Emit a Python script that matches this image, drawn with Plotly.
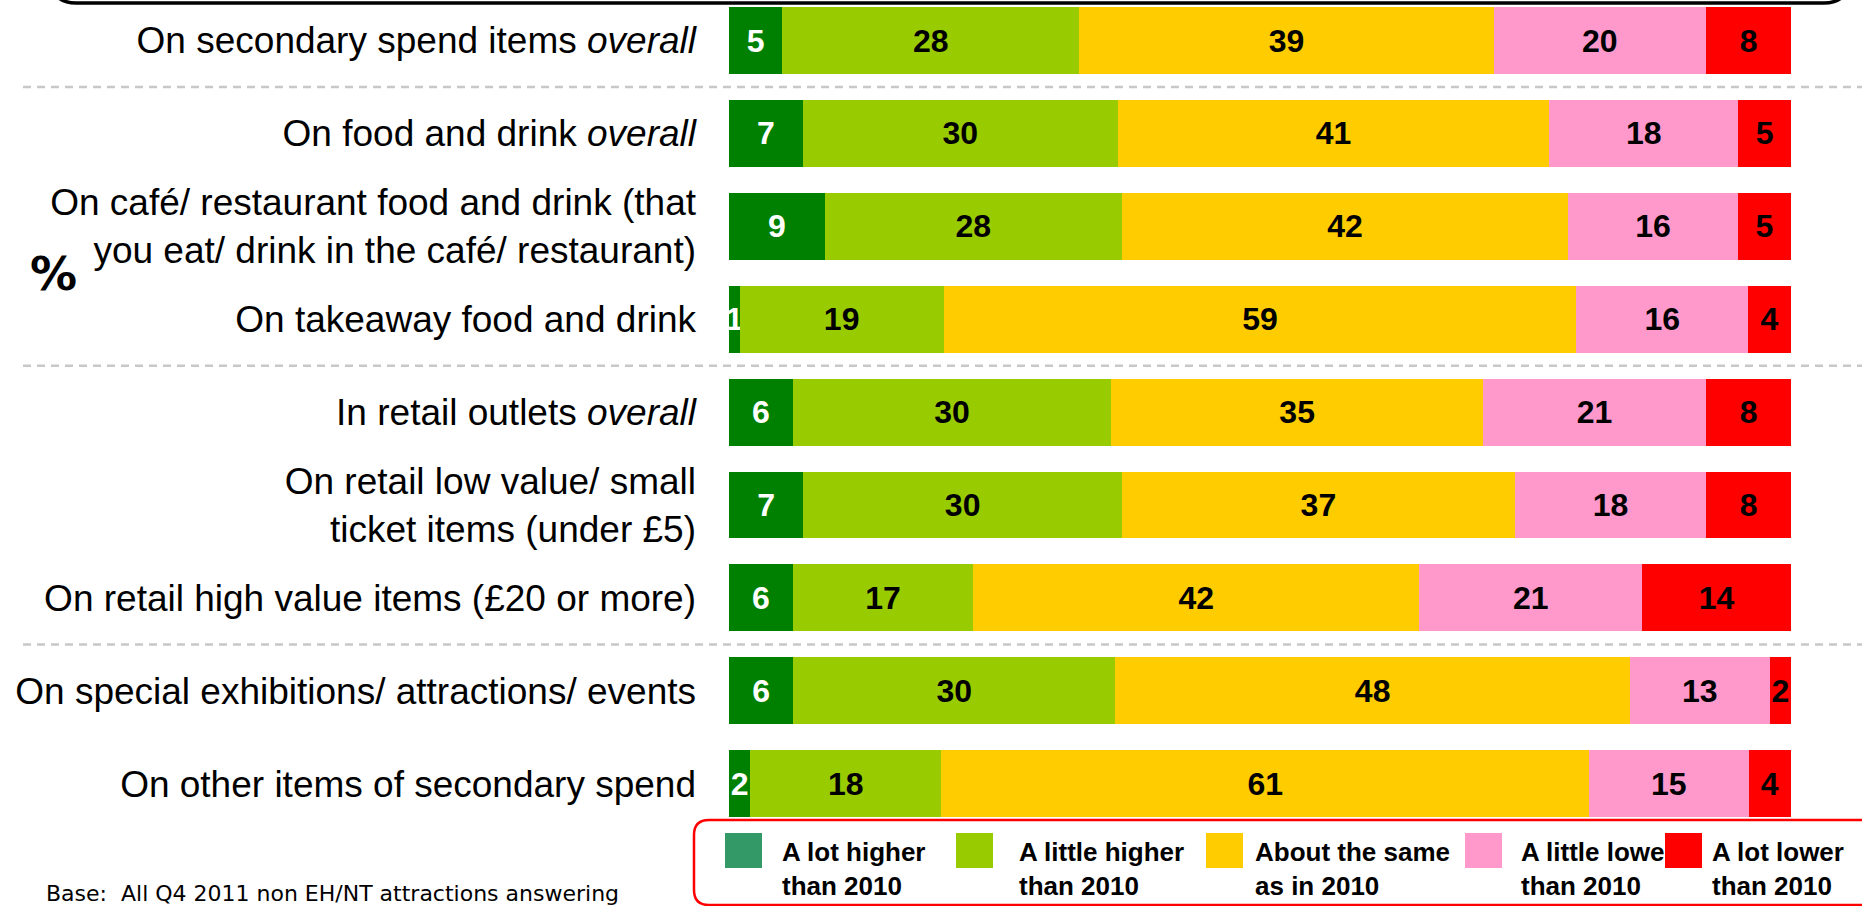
import plotly.graph_objects as go

# ---------------- data ----------------
categories = [
    "On secondary spend items <i>overall</i>",
    "On food and drink <i>overall</i>",
    "On café/ restaurant food and drink (that<br>you eat/ drink in the café/ restaurant)",
    "On takeaway food and drink",
    "In retail outlets <i>overall</i>",
    "On retail low value/ small<br>ticket items (under £5)",
    "On retail high value items (£20 or more)",
    "On special exhibitions/ attractions/ events",
    "On other items of secondary spend",
]
series_names = [
    "A lot higher<br>than 2010",
    "A little higher<br>than 2010",
    "About the same<br>as in 2010",
    "A little lower<br>than 2010",
    "A lot lower<br>than 2010",
]
a_lot_higher = [5, 7, 9, 1, 6, 7, 6, 6, 2]
a_little_higher = [28, 30, 28, 19, 30, 30, 17, 30, 18]
about_same = [39, 41, 42, 59, 35, 37, 42, 48, 61]
a_little_lower = [20, 18, 16, 16, 21, 18, 21, 13, 15]
a_lot_lower = [8, 5, 5, 4, 8, 8, 14, 2, 4]
series_values = [a_lot_higher, a_little_higher, about_same, a_little_lower, a_lot_lower]

bar_colors = ["#008000", "#99CC00", "#FFCC00", "#FF99CC", "#FF0000"]
legend_colors = ["#339966", "#99CC00", "#FFCC00", "#FF99CC", "#FF0000"]
text_colors = ["#FFFFFF", "#000000", "#000000", "#000000", "#000000"]

# ---------------- geometry helpers (pixels -> paper) ----------------
W, H = 1862, 906
ML, MR, MT, MB = 729, 71, 0, 76
PW, PH = W - ML - MR, H - MT - MB


def px(x):
    return (x - ML) / PW


def py(y):
    return (H - MB - y) / PH


def rounded_rect(x0, y0, x1, y1, r):
    # pixel coordinates, y downward; returns path in paper coords
    pts = [
        ("M", [(x0 + r, y0)]),
        ("L", [(x1 - r, y0)]),
        ("Q", [(x1, y0), (x1, y0 + r)]),
        ("L", [(x1, y1 - r)]),
        ("Q", [(x1, y1), (x1 - r, y1)]),
        ("L", [(x0 + r, y1)]),
        ("Q", [(x0, y1), (x0, y1 - r)]),
        ("L", [(x0, y0 + r)]),
        ("Q", [(x0, y0), (x0 + r, y0)]),
    ]
    s = ""
    for cmd, ps in pts:
        s += cmd + " " + " ".join(f"{px(a):.5f},{py(b):.5f}" for a, b in ps) + " "
    return s + "Z"


FONT = "Liberation Sans, Arial, sans-serif"

fig = go.Figure()
for name, vals, col, tcol in zip(series_names, series_values, bar_colors, text_colors):
    fig.add_trace(go.Bar(
        y=categories, x=vals, name=name, orientation="h",
        marker=dict(color=col, line=dict(width=0)),
        text=[str(v) for v in vals], textposition="inside",
        insidetextanchor="middle", constraintext="none", textangle=0,
        textfont=dict(family=FONT, size=32, color=tcol, weight="bold"),
        hoverinfo="skip", showlegend=False,
    ))

shapes = []
# top title box bottom edge
shapes.append(dict(type="path", xref="paper", yref="paper",
                   path=rounded_rect(52, -80, 1848, 3, 24),
                   line=dict(color="#000000", width=3.5), fillcolor="rgba(0,0,0,0)", layer="above"))
# dashed separators
for yv in [0.5, 3.5, 6.5]:
    shapes.append(dict(type="line", xref="paper", yref="y",
                       x0=px(23), x1=px(1870), y0=yv, y1=yv,
                       line=dict(color="#C8C8C8", width=2.5, dash="8px,6px"), layer="below"))
# legend box
shapes.append(dict(type="path", xref="paper", yref="paper",
                   path=rounded_rect(694, 820, 1920, 905, 15),
                   line=dict(color="#FF0000", width=2.5), fillcolor="rgba(0,0,0,0)", layer="above"))

annotations = []
# % sign
annotations.append(dict(xref="paper", yref="paper", x=px(53), y=py(273), text="%",
                        showarrow=False, xanchor="center", yanchor="middle",
                        font=dict(family="DejaVu Sans, Verdana, sans-serif", size=47,
                                  color="#000000", weight="bold")))
# base note
annotations.append(dict(xref="paper", yref="paper", x=px(44), y=py(893),
                        text="Base:  All Q4 2011 non EH/NT attractions answering",
                        showarrow=False, xanchor="left", yanchor="middle",
                        font=dict(family="DejaVu Sans, Verdana, sans-serif", size=22, color="#000000")))
# legend texts
legend_text_x = [780, 1017, 1253, 1519, 1710]
legend_square_x = [743, 974, 1224, 1483, 1683]
for name, tx in zip(series_names, legend_text_x):
    annotations.append(dict(xref="paper", yref="paper", x=px(tx), y=py(869), text=name,
                            showarrow=False, xanchor="left", yanchor="middle", align="left",
                            font=dict(family=FONT, size=26, color="#000000", weight="bold")))
# legend swatches (drawn after texts so the last covers overflowing text)
for col, sx in zip(legend_colors, legend_square_x):
    annotations.append(dict(xref="paper", yref="paper", x=px(sx), y=py(850), text=" ",
                            showarrow=False, xanchor="center", yanchor="middle",
                            width=37, height=35, bgcolor=col, borderpad=0, borderwidth=0,
                            font=dict(size=10)))

fig.update_layout(
    width=W, height=H,
    margin=dict(l=ML, r=MR, t=MT, b=MB, pad=0),
    barmode="stack", barnorm="percent", bargap=0.28,
    plot_bgcolor="#FFFFFF", paper_bgcolor="#FFFFFF",
    xaxis=dict(range=[0, 100], visible=False, showgrid=False, zeroline=False),
    yaxis=dict(type="category", categoryorder="array", categoryarray=categories,
               range=[8.498, -0.436], showgrid=False, zeroline=False, showline=False,
               ticks="", ticklabelstandoff=32,
               tickfont=dict(family=FONT, size=37, color="#000000")),
    shapes=shapes, annotations=annotations,
    showlegend=False,
)

fig.write_html("out.html", config={"displayModeBar": False})
